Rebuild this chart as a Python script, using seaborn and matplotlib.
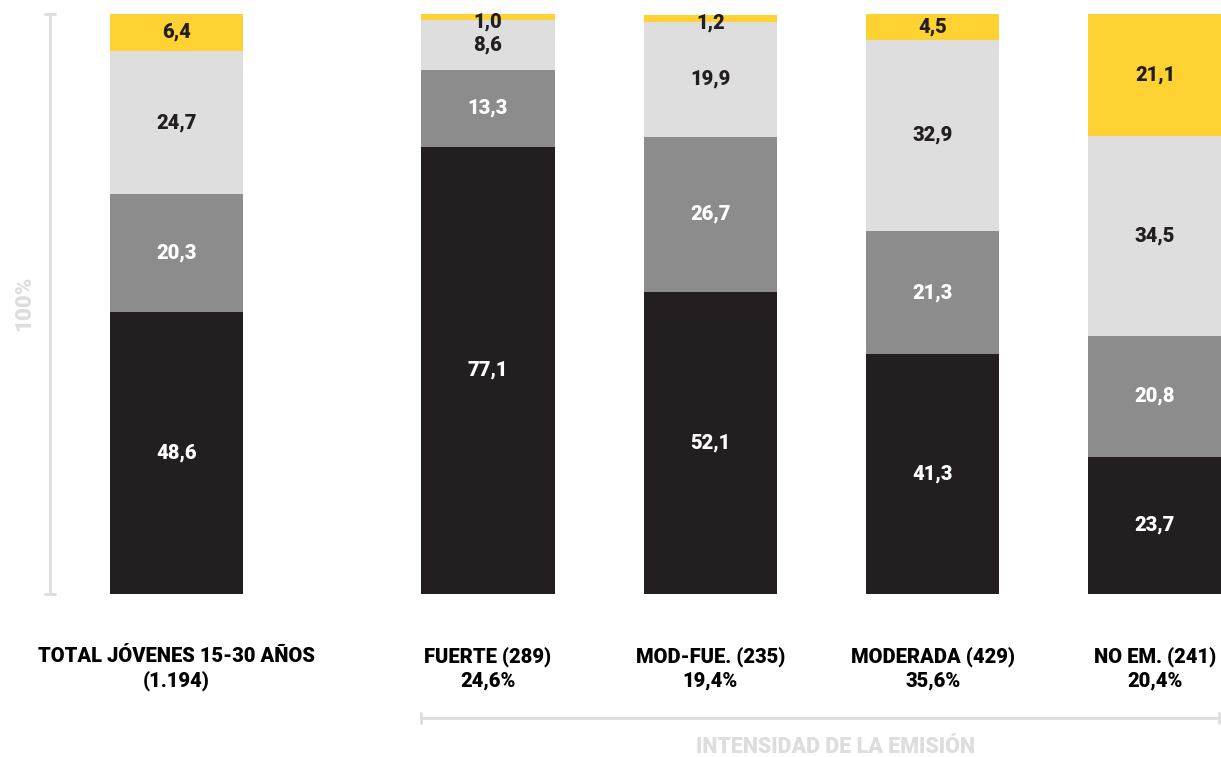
import matplotlib
matplotlib.use("Agg")

import matplotlib.pyplot as plt
import matplotlib.transforms as mtransforms
import numpy as np
import pandas as pd
import seaborn as sns

# data, bottom segment first
groups = ["TOTAL", "FUERTE", "MOD-FUE", "MODERADA", "NO EM"]
positions = [0.0, 1.4, 2.4, 3.4, 4.4]
label_line1 = ["TOTAL JÓVENES 15-30 AÑOS", "FUERTE (289)", "MOD-FUE. (235)", "MODERADA (429)", "NO EM. (241)"]
label_line2 = ["(1.194)", "24,6%", "19,4%", "35,6%", "20,4%"]

seg_black = [48.6, 77.1, 52.1, 41.3, 23.7]
seg_grey = [20.3, 13.3, 26.7, 21.3, 20.8]
seg_light = [24.7, 8.6, 19.9, 32.9, 34.5]
seg_yellow = [6.4, 1.0, 1.2, 4.5, 21.1]

segments = [seg_black, seg_grey, seg_light, seg_yellow]
colors = ["#231f20", "#8c8c8c", "#dedede", "#ffd234"]
text_colors = ["white", "white", "#231f20", "#231f20"]

sns.set_theme(style="white")
plt.rcParams["font.family"] = ["Roboto", "DejaVu Sans"]

fig = plt.figure(figsize=(12.21, 7.57), dpi=100)
ax = fig.add_axes([0, (757 - 594) / 757, 1, 580 / 757])

df = pd.DataFrame({"pos": positions})
cum = np.zeros(len(groups))
cums = []
for seg in segments:
    cum = cum + np.array(seg)
    cums.append(cum.copy())

# draw cumulative bars from the top layer down so lower layers cover upper ones
for i in range(len(segments) - 1, -1, -1):
    df["val"] = cums[i]
    sns.barplot(data=df, x="pos", y="val", native_scale=True, width=0.6,
                color=colors[i], saturation=1, ax=ax, linewidth=0)

# value labels
for i, seg in enumerate(segments):
    bottoms = cums[i] - np.array(seg)
    for x, b, v in zip(positions, bottoms, seg):
        y = b + v / 2
        if v < 2 and b + v > 99:
            y = b + v - 1.4
        ax.text(x, y, f"{v:.1f}".replace(".", ","), ha="center", va="center",
                color=text_colors[i], fontsize=14.5, fontweight="heavy")

ax.set_xlim(-176.5 / 222.4, (1221 - 176.5) / 222.4)
ax.set_ylim(0, 100)
ax.set_axis_off()

# left 100% scale
axis_col = "#dddddd"
xs = (50 - 176.5) / 222.4
cap = 5 / 222.4
ax.plot([xs, xs], [0, 100], color=axis_col, lw=2, clip_on=False)
ax.plot([xs - cap, xs + cap], [100, 100], color=axis_col, lw=2, clip_on=False)
ax.plot([xs - cap, xs + cap], [0, 0], color=axis_col, lw=2, clip_on=False)
fig.text(24 / 1221, 1 - 303 / 757, "100%", rotation=90, ha="center", va="center",
         color=axis_col, fontsize=16, fontweight="heavy")

# category labels
trans = mtransforms.blended_transform_factory(ax.transData, fig.transFigure)
for x, l1, l2 in zip(positions, label_line1, label_line2):
    ax.text(x, 1 - 657 / 757, l1, transform=trans, ha="center", va="center",
            fontsize=14.5, fontweight="heavy", color="black")
    ax.text(x, 1 - 681 / 757, l2, transform=trans, ha="center", va="center",
            fontsize=14.5, fontweight="heavy", color="black")

# bracket for intensity groups
yb = 1 - 718 / 757
xl = positions[1] - 0.3
xr = (1219 - 176.5) / 222.4
ax.plot([xl, xr], [yb, yb], color=axis_col, lw=2, transform=trans, clip_on=False)
for xe in (xl, xr):
    ax.plot([xe, xe], [yb - 5 / 757, yb + 5 / 757], color=axis_col, lw=2,
            transform=trans, clip_on=False)
fig.text(836 / 1221, 1 - 747 / 757, "INTENSIDAD DE LA EMISIÓN", ha="center", va="center",
         color=axis_col, fontsize=15.5, fontweight="heavy")

fig.savefig("out.png", dpi=100)
